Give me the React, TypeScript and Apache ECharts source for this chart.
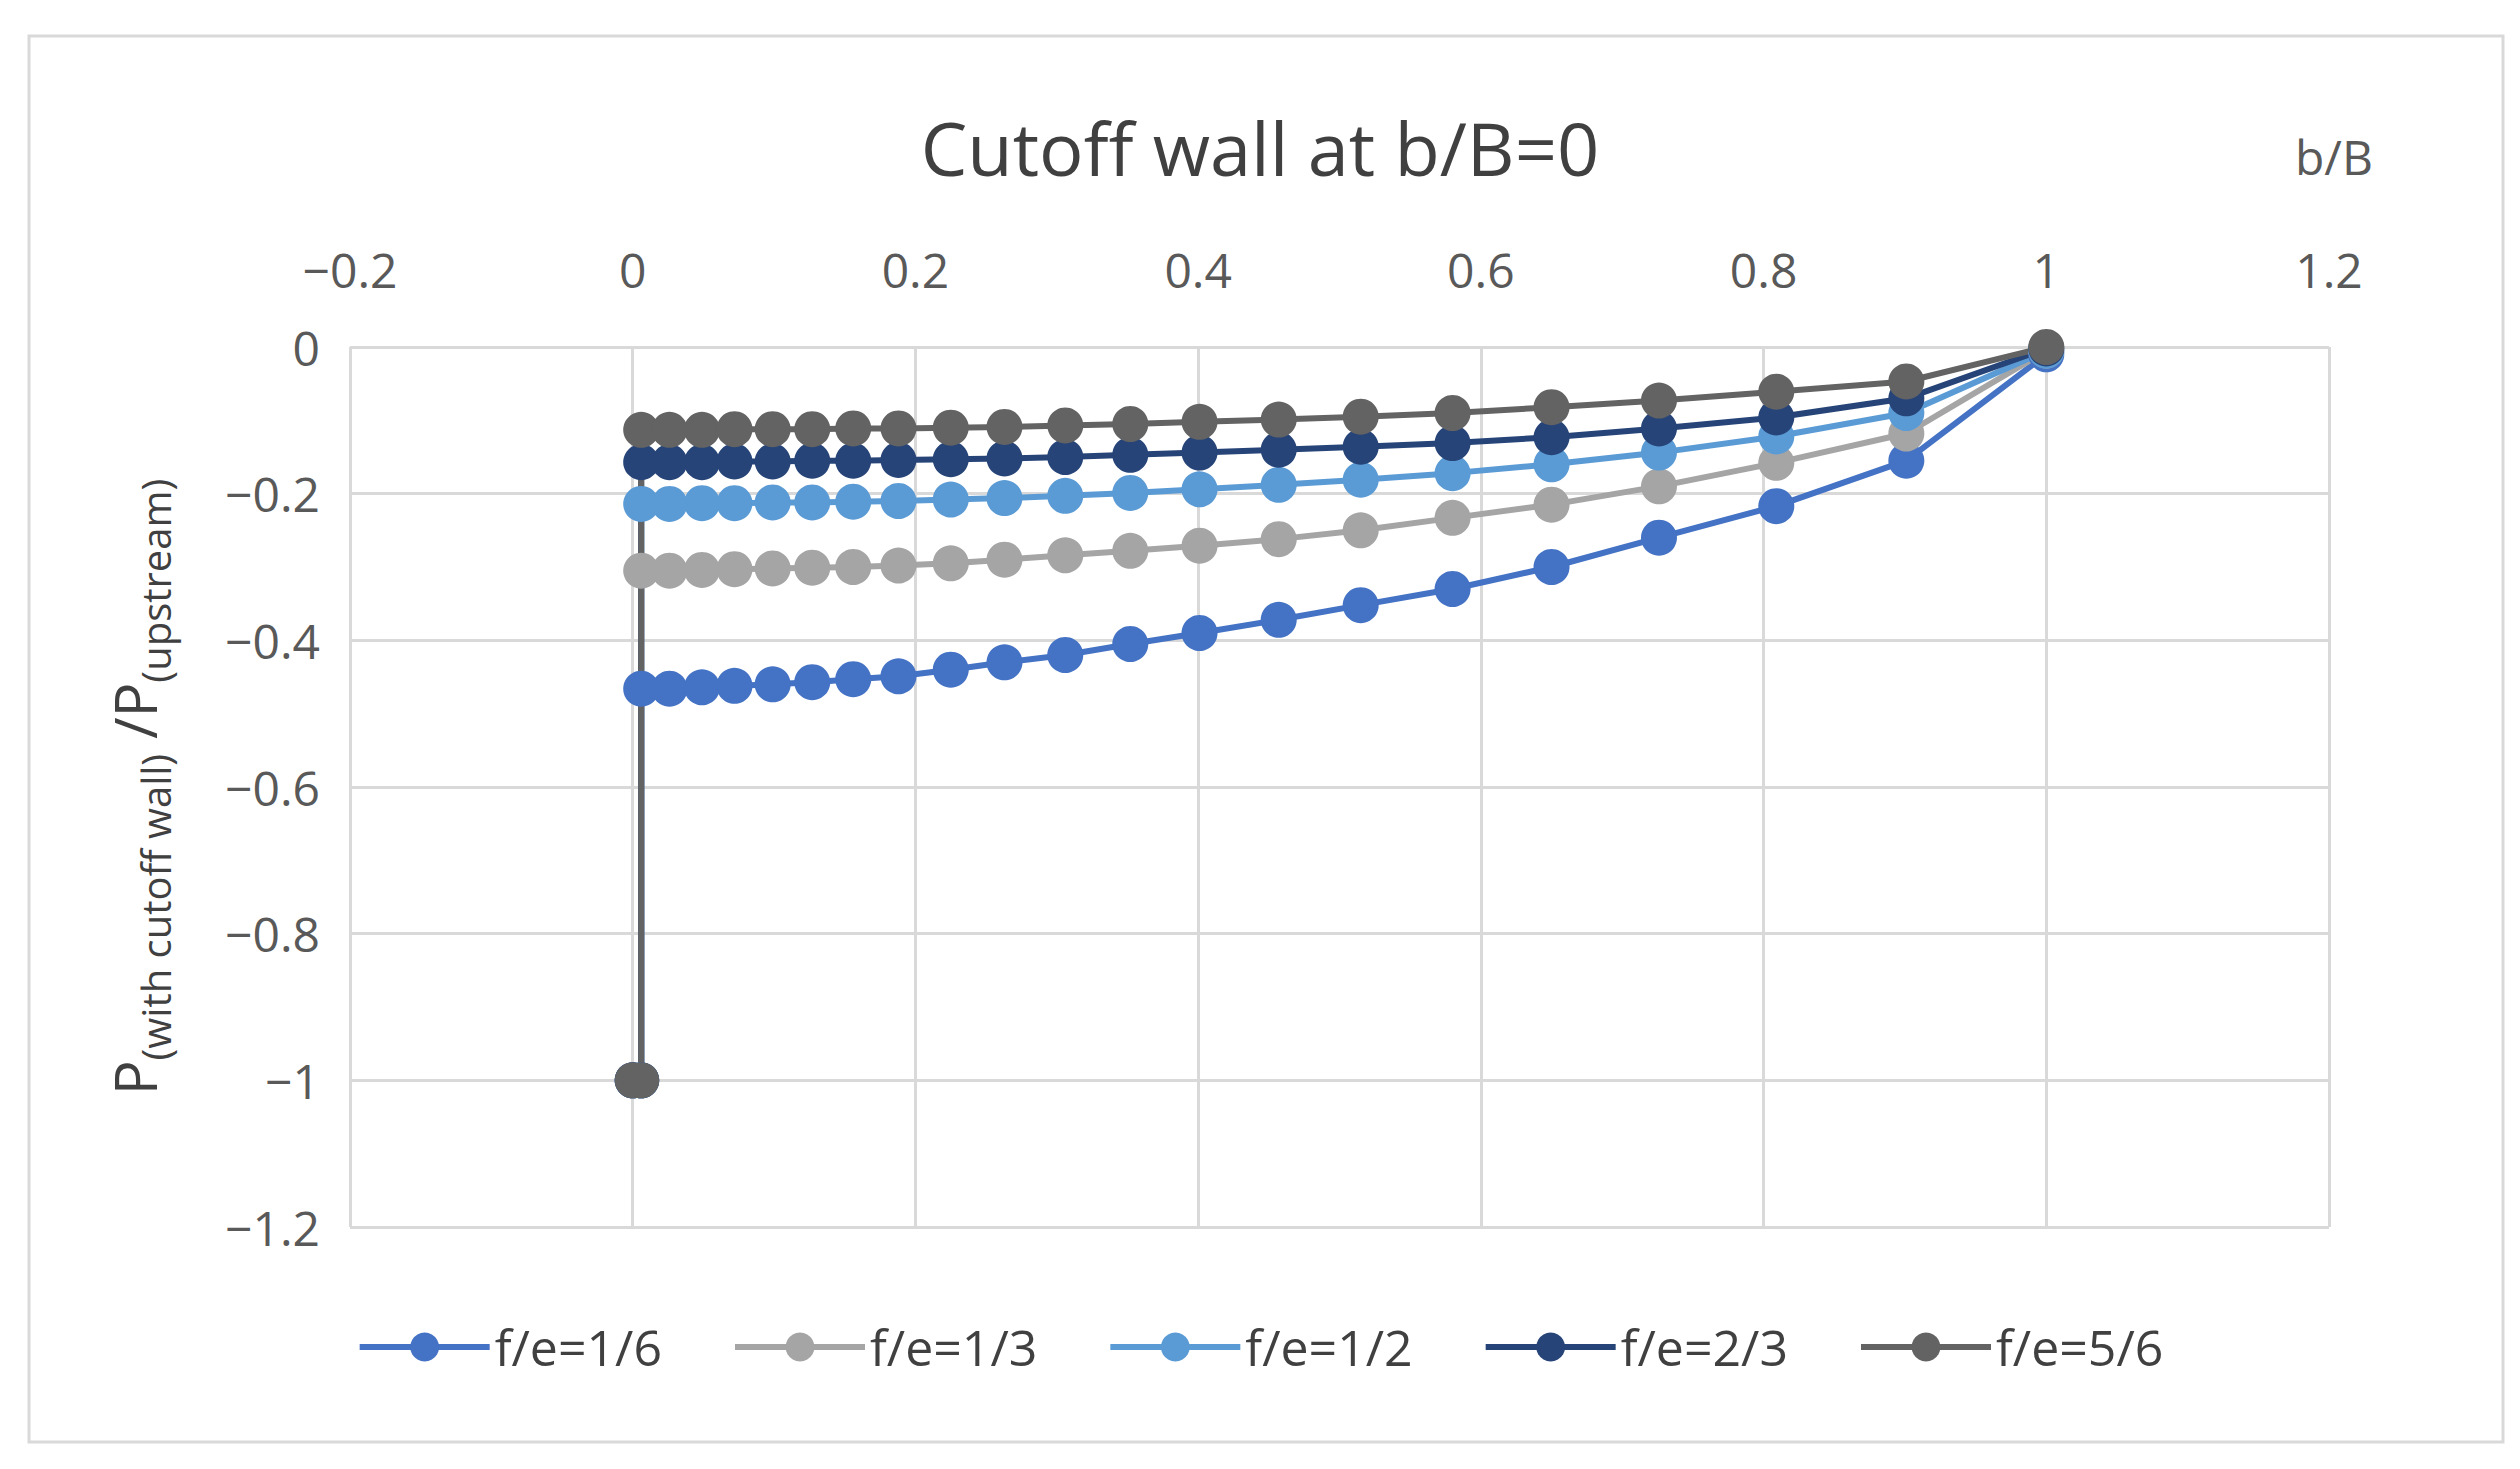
import { useEffect, useRef } from "react";
import * as echarts from "echarts";

const xValues = [0.006, 0.026, 0.049, 0.072, 0.099, 0.127, 0.156, 0.188, 0.225, 0.263, 0.306, 0.352, 0.401, 0.457, 0.515, 0.58, 0.65, 0.726, 0.809, 0.901, 1.0];
const seriesNames = ["f/e=1/6", "f/e=1/3", "f/e=1/2", "f/e=2/3", "f/e=5/6"];
const fe16 = [-0.466, -0.466, -0.464, -0.462, -0.46, -0.457, -0.453, -0.449, -0.44, -0.43, -0.42, -0.405, -0.39, -0.372, -0.352, -0.33, -0.3, -0.26, -0.217, -0.155, -0.01];
const fe13 = [-0.305, -0.305, -0.304, -0.303, -0.302, -0.301, -0.3, -0.298, -0.295, -0.29, -0.284, -0.278, -0.271, -0.262, -0.25, -0.233, -0.215, -0.19, -0.158, -0.118, -0.005];
const fe12 = [-0.214, -0.214, -0.213, -0.213, -0.212, -0.212, -0.211, -0.21, -0.208, -0.206, -0.203, -0.199, -0.194, -0.188, -0.181, -0.172, -0.16, -0.144, -0.122, -0.09, -0.005];
const fe23 = [-0.157, -0.157, -0.157, -0.156, -0.156, -0.155, -0.155, -0.154, -0.153, -0.152, -0.15, -0.147, -0.144, -0.14, -0.136, -0.131, -0.123, -0.111, -0.096, -0.07, -0.002];
const fe56 = [-0.113, -0.113, -0.113, -0.112, -0.112, -0.112, -0.111, -0.111, -0.11, -0.109, -0.107, -0.105, -0.102, -0.099, -0.095, -0.09, -0.082, -0.073, -0.061, -0.047, 0];
// every curve starts at the foot of the wall
const wallPoints: [number, number][] = [[0, -1], [0.006, -1]];
const COLORS = ["#4472C4", "#A5A5A5", "#5B9BD5", "#264478", "#636363"];

const fmt = (v: number) => {
  const s = String(Math.round(v * 10) / 10);
  return s.startsWith("-") ? "\u2212" + s.slice(1) : s;
};

export default function App() {
  const el = useRef<HTMLDivElement>(null);

  useEffect(() => {
    if (!el.current) return;
    const chart = echarts.init(el.current, undefined, { renderer: "svg" });
    const all = [fe16, fe13, fe12, fe23, fe56];
    chart.setOption({
      animation: false,
      backgroundColor: "#fff",
      color: COLORS,
      textStyle: { fontFamily: "Open Sans, Noto Sans, sans-serif" },
      title: {
        text: "Cutoff wall at b/B=0",
        left: "center",
        top: 105,
        textStyle: { fontSize: 74, fontWeight: "normal", color: "#404040" },
      },
      graphic: [
        { type: "rect", shape: { x: 29, y: 36, width: 2474, height: 1406 }, style: { fill: "none", stroke: "#d9d9d9", lineWidth: 3 } },
        { type: "text", left: 2295, top: 132, style: { text: "b/B", fontSize: 48, fill: "#595959", fontFamily: "Open Sans, sans-serif" } },
      ],
      legend: {
        bottom: 92,
        left: "center",
        itemGap: 70,
        itemWidth: 130,
        itemHeight: 36,
        lineStyle: { width: 6 },
        textStyle: { fontSize: 50, color: "#404040" },
        data: seriesNames,
      },
      grid: { left: 350, right: 191, top: 347, bottom: 242 },
      xAxis: {
        type: "value",
        position: "top",
        min: -0.2,
        max: 1.2,
        interval: 0.2,
        axisLine: { show: false },
        axisTick: { show: false },
        axisLabel: { fontSize: 48, color: "#595959", margin: 54, formatter: fmt },
        splitLine: { lineStyle: { color: "#d9d9d9", width: 3 } },
      },
      yAxis: {
        type: "value",
        min: -1.2,
        max: 0,
        interval: 0.2,
        name: "{m|P}{s|(with cutoff wall)}{m| /P}{s|(upstream)}",
        nameLocation: "middle",
        nameGap: 175,
        nameTextStyle: {
          color: "#404040",
          rich: {
            m: { fontSize: 58, color: "#404040", verticalAlign: "top" },
            s: { fontSize: 40, color: "#404040", verticalAlign: "bottom", padding: [30, 0, 0, 0] },
          },
        },
        axisLine: { show: false },
        axisTick: { show: false },
        axisLabel: { fontSize: 48, color: "#595959", margin: 30, formatter: fmt },
        splitLine: { lineStyle: { color: "#d9d9d9", width: 3 } },
      },
      series: all.map((vals, i) => ({
        name: seriesNames[i],
        type: "line",
        symbol: "circle",
        symbolSize: 36,
        lineStyle: { width: 6 },
        data: [...wallPoints, ...xValues.map((x, j) => [x, vals[j]])],
      })),
    });
    return () => chart.dispose();
  }, []);

  return <div ref={el} style={{ position: "fixed", left: 0, top: 0, width: 2520, height: 1469 }} />;
}
